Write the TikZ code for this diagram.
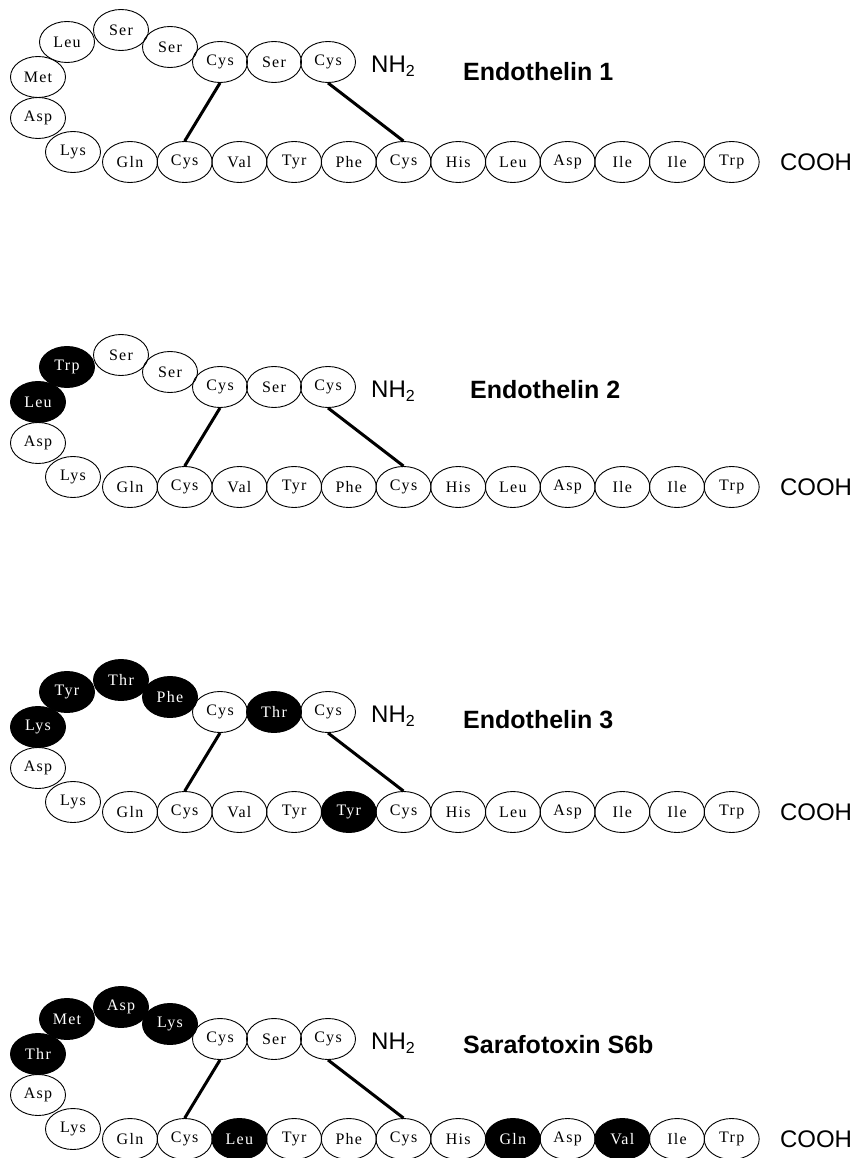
\documentclass[tikz,border=0pt]{standalone}
\usepackage{fontspec}
\setmainfont{Liberation Serif}
\newfontfamily\aafont[LetterSpace=8]{Liberation Serif}
\newfontfamily\lsans{Liberation Sans}
\usetikzlibrary{shapes.geometric}
\tikzset{
 aa/.style={ellipse, draw=black, line width=0.9pt, minimum width=55pt, minimum height=41pt, inner sep=0pt, font=\aafont\fontsize{16}{16}\selectfont},
 wt/.style={aa},
 bk/.style={aa, fill=black, text=white},
 ss/.style={line width=3pt},
 nh/.style={font=\lsans\fontsize{24}{24}\selectfont, inner sep=0pt},
 ttl/.style={font=\lsans\bfseries\fontsize{25}{25}\selectfont, anchor=west, inner sep=0pt},
}
\newcommand\panel[6]{%
 \foreach \lab/\st [count=\i] in {#6} {
  \pgfmathsetmacro\xx{{328,274,220,170,121,67,38,38,73,130,184.7,239.4,294.1,348.8,403.5,458.2,512.9,567.6,622.3,677,731.7}[\i-1]}
  \pgfmathsetmacro\yy{{62,62,62,47,30,42,77,118,152,162,162,162,162,162,162,162,162,162,162,162,162}[\i-1]+#2}
  \node[\st] (#1\i) at (\xx,\yy) {\lab};
 }
 \draw[ss] (#13.south) -- (#111.north);
 \draw[ss] (#11.south) -- (#115.north);
 \node[nh] (#1nh) at (393,{66+#2}) {NH\raisebox{-0.3ex}{\fontsize{16}{16}\selectfont 2}};
 \node[ttl] (#1t) at (#3,#4) {#5};
 \node[nh] (#1c) at (816,{162+#2}) {COOH};
}
\begin{document}
\begin{tikzpicture}[x=1pt,y=-1pt]
\fill[white] (0,0) rectangle (856,1158);
\useasboundingbox (0,0) rectangle (856,1158);
\panel{a}{0}{463}{72}{Endothelin 1}{Cys/wt,Ser/wt,Cys/wt,Ser/wt,Ser/wt,Leu/wt,Met/wt,Asp/wt,Lys/wt,Gln/wt,Cys/wt,Val/wt,Tyr/wt,Phe/wt,Cys/wt,His/wt,Leu/wt,Asp/wt,Ile/wt,Ile/wt,Trp/wt}
\panel{b}{325}{470}{390}{Endothelin 2}{Cys/wt,Ser/wt,Cys/wt,Ser/wt,Ser/wt,Trp/bk,Leu/bk,Asp/wt,Lys/wt,Gln/wt,Cys/wt,Val/wt,Tyr/wt,Phe/wt,Cys/wt,His/wt,Leu/wt,Asp/wt,Ile/wt,Ile/wt,Trp/wt}
\panel{c}{650}{463}{720}{Endothelin 3}{Cys/wt,Thr/bk,Cys/wt,Phe/bk,Thr/bk,Tyr/bk,Lys/bk,Asp/wt,Lys/wt,Gln/wt,Cys/wt,Val/wt,Tyr/wt,Tyr/bk,Cys/wt,His/wt,Leu/wt,Asp/wt,Ile/wt,Ile/wt,Trp/wt}
\panel{d}{977}{463}{1045}{Sarafotoxin S6b}{Cys/wt,Ser/wt,Cys/wt,Lys/bk,Asp/bk,Met/bk,Thr/bk,Asp/wt,Lys/wt,Gln/wt,Cys/wt,Leu/bk,Tyr/wt,Phe/wt,Cys/wt,His/wt,Gln/bk,Asp/wt,Val/bk,Ile/wt,Trp/wt}
\end{tikzpicture}
\end{document}
